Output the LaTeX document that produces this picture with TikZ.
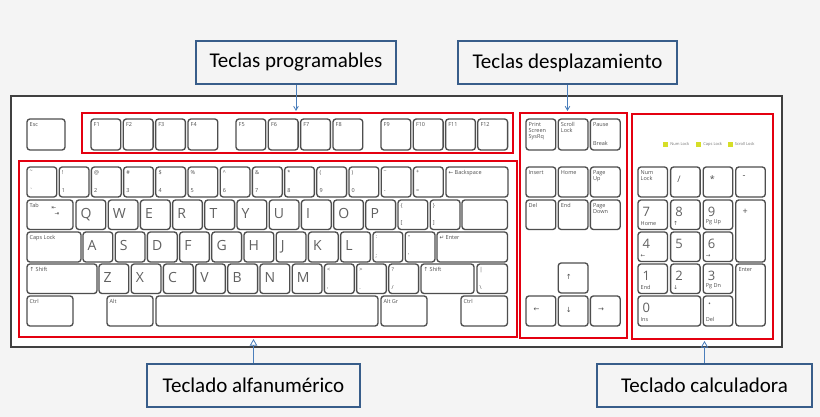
\documentclass[tikz,border=0pt]{standalone}
\usepackage{fontspec}
\usepackage{tikz}
\usetikzlibrary{arrows}
\usetikzlibrary{positioning}

\setmainfont{Carlito}
\newfontfamily\keyfont{Open Sans}
\newfontfamily\symfont{DejaVu Sans}

\definecolor{bgpaper}{RGB}{244,244,244}
\definecolor{keyline}{RGB}{78,78,78}
\definecolor{zonered}{RGB}{228,0,16}
\definecolor{boxblue}{RGB}{56,93,138}
\definecolor{arrowblue}{RGB}{74,126,187}
\definecolor{ledyellow}{RGB}{214,222,40}

\tikzset{
  keycap/.style={draw=keyline, fill=white, line width=1.35pt, rounded corners=3pt, inner sep=0pt, outer sep=0pt},
  keytxt/.style={anchor=north west, inner sep=0pt, xshift=2.5pt, yshift=-3.5pt, text=keyline, align=left, font=\keyfont\fontsize{5.5}{6}\selectfont},
  keybig/.style={keytxt, xshift=2pt, yshift=-5pt, text=black!62, font=\keyfont\fontsize{14}{14}\selectfont},
  keynum/.style={keytxt, xshift=2pt, yshift=-3.5pt, text=black!62, font=\keyfont\fontsize{13}{13}\selectfont},
  keymid/.style={keytxt, xshift=4pt, yshift=-5pt, font=\keyfont\fontsize{9}{9}\selectfont},
  keyarr/.style={keytxt, xshift=5pt, yshift=-8pt, font=\symfont\fontsize{7}{7}\selectfont},
  keylow/.style={anchor=south west, inner sep=0pt, xshift=2.5pt, yshift=4pt, text=keyline, font=\keyfont\fontsize{5.5}{6}\selectfont},
  zone/.style={draw=zonered, line width=2.2pt, inner sep=0pt, outer sep=0pt},
  frame/.style={draw=black!75, fill=white, line width=1.2pt, inner sep=0pt},
  callbox/.style={draw=boxblue, fill=bgpaper, line width=1.8pt, inner sep=0pt, font=\fontsize{21}{25}\selectfont},
  led/.style={fill=ledyellow, minimum size=5pt, inner sep=0pt},
  ledtxt/.style={inner sep=0pt, text=black!55, font=\keyfont\fontsize{4}{4}\selectfont}
}

% key: [style]{x}{y}{w}{h}{name}{text}
\newcommand{\kc}[7][keytxt]{%
  \node[keycap, minimum width=#4pt, minimum height=#5pt] (#6) at ({#2+#4/2},{#3+#5/2}) {};
  \node[#1] (#6-t) at (#6.north west) {#7};}
\newcommand{\kl}[2]{\node[keylow] (#1-b) at (#1.south west) {#2};}

\begin{document}
\begin{tikzpicture}[x=1pt, y=-1pt]
    \fill[bgpaper] (0,0) rectangle (820,417);
    \useasboundingbox (0,0) rectangle (820,417);

    \node[frame, minimum width=771pt, minimum height=251pt] (board) at (396.5,221.5) {};

    % function row
    \kc{27}{119}{38}{31}{esc}{Esc}
    \foreach \i/\x in {1/91,2/123.3,3/155.6,4/188,5/236,6/268.3,7/300.6,8/333,9/381,10/413.3,11/445.6,12/477.8}
    {\kc{\x}{119}{29.8}{31}{f\i}{F\i}}

    % number row
    \foreach \i/\s/\d in {0/\textasciitilde/\textasciigrave,1/!/1,2/@/2,3/\#/3,4/\$/4,5/\%/5,6/\textasciicircum/6,7/\&/7,8/*/8,9/(/9,10/)/0,11/\_/-,12/+/=}
    {\kc{27+32.2*\i}{167}{29.8}{30}{n\i}{\s}
     \kl{n\i}{\d}}
    \kc{446}{167}{62}{30}{bksp}{{\symfont ←} Backspace}

    % tab row
    \kc{27}{200}{46}{29.5}{tab}{Tab}
    \node[keytxt, xshift=22pt, yshift=-3pt, font=\symfont\fontsize{5.5}{6}\selectfont] (tab-s) at (tab.north west) {⇤\\\hspace{3pt}⇥};
    \foreach \i/\c in {0/Q,1/W,2/E,3/R,4/T,5/Y,6/U,7/I,8/O,9/P}
    {\kc[keybig]{76+32.2*\i}{200}{29.8}{29.5}{q\i}{\c}}
    \kc{398}{200}{29.8}{29.5}{lbrk}{\{}
    \kl{lbrk}{[}
    \kc{430.2}{200}{29.8}{29.5}{rbrk}{\}}
    \kl{rbrk}{]}
    \kc{462}{200}{45.5}{29.5}{ret}{}

    % caps row
    \kc{27}{232}{54}{30}{caps}{Caps Lock}
    \foreach \i/\c in {0/A,1/S,2/D,3/F,4/G,5/H,6/J,7/K,8/L}
    {\kc[keybig]{83+32.2*\i}{232}{29.8}{30}{a\i}{\c}}
    \kc{373}{232}{29.8}{30}{semi}{:}
    \kl{semi}{;}
    \kc{405.2}{232}{29.8}{30}{quot}{\textquotedbl}
    \kl{quot}{\textquotesingle}
    \kc{437}{232}{70.5}{30}{enter}{{\symfont ↵} Enter}

    % shift row
    \kc{27}{264}{70}{29.5}{lshift}{{\symfont ↑} Shift}
    \foreach \i/\c in {0/Z,1/X,2/C,3/V,4/B,5/N,6/M}
    {\kc[keybig]{99+32.2*\i}{264}{29.8}{29.5}{z\i}{\c}}
    \foreach \i/\s/\d in {7/</{,},8/>/.,9/?/{/}}
    {\kc{99+32.2*\i}{264}{29.8}{29.5}{z\i}{\s}
     \kl{z\i}{\d}}
    \kc{421}{264}{53}{29.5}{rshift}{{\symfont ↑} Shift}
    \kc{477}{264}{30.5}{29.5}{bar}{|}
    \kl{bar}{\textbackslash}

    % bottom row
    \kc{27}{296}{46}{30}{lctrl}{Ctrl}
    \kc{107}{296}{46}{30}{alt}{Alt}
    \kc{156}{296}{222}{30}{space}{}
    \kc{381}{296}{46}{30}{altgr}{Alt Gr}
    \kc{461}{296}{46.5}{30}{rctrl}{Ctrl}

    % navigation block
    \kc{526}{119}{29.8}{31}{prt}{Print\\Screen\\SysRq}
    \kc{558.2}{119}{29.8}{31}{scr}{Scroll\\Lock}
    \kc{590.4}{119}{29.8}{31}{pau}{Pause}
    \kl{pau}{Break}
    \kc{526}{167}{29.8}{30}{ins}{Insert}
    \kc{558.2}{167}{29.8}{30}{home}{Home}
    \kc{590.4}{167}{29.8}{30}{pgup}{Page\\Up}
    \kc{526}{200}{29.8}{29.5}{del}{Del}
    \kc{558.2}{200}{29.8}{29.5}{end}{End}
    \kc{590.4}{200}{29.8}{29.5}{pgdn}{Page\\Down}
    \kc[keyarr]{558.2}{263}{29.8}{30}{up}{↑}
    \kc[keyarr]{526}{296}{29.8}{30}{left}{←}
    \kc[keyarr]{558.2}{296}{29.8}{30}{down}{↓}
    \kc[keyarr]{590.4}{296}{29.8}{30}{right}{→}

    % lights
    \foreach \i/\x/\t in {1/665.5/Num Lock,2/698.5/Caps Lock,3/730/Scroll Lock}
    {\node[led] (led\i) at (\x,144.5) {};
     \node[ledtxt, right=2pt of led\i] (led\i-t) {\t};}

    % calculator block
    \kc{638}{167}{29.5}{30}{nlk}{Num\\Lock}
    \kc[keymid]{670.6}{167}{29.5}{30}{pdiv}{/}
    \kc[keymid]{703.2}{167}{29.5}{30}{pmul}{*}
    \kc[keymid]{735.8}{167}{29.5}{30}{pmin}{-}
    \foreach \c/\x/\y/\d in {7/638/200/Home,8/670.6/200/{\symfont ↑},9/703.2/200/Pg Up,4/638/232/{\symfont ←},5/670.6/232/{},6/703.2/232/{\symfont →},1/638/264/End,2/670.6/264/{\symfont ↓},3/703.2/264/Pg Dn}
    {\kc[keynum]{\x}{\y}{29.5}{29.5}{p\c}{\c}
     \kl{p\c}{\d}}
    \kc[keymid]{735.8}{200}{29.5}{62}{pplus}{+}
    \kc{735.8}{264}{29.5}{62}{pent}{Enter}
    \kc[keynum]{638}{296}{62.7}{30}{p0}{0}
    \kl{p0}{Ins}
    \kc[keynum]{703.2}{296}{29.5}{30}{pdot}{.}
    \kl{pdot}{Del}

    % red zones
    \node[zone, minimum width=431pt, minimum height=40pt] (fnzone) at (297.5,133) {};
    \node[zone, minimum width=498pt, minimum height=176pt] (mainzone) at (268,249) {};
    \node[zone, minimum width=107pt, minimum height=225pt] (navzone) at (573.5,225.5) {};
    \node[zone, minimum width=141pt, minimum height=225pt] (numzone) at (702.5,226.5) {};

    % callouts
    \node[callbox, minimum width=200pt, minimum height=43pt] (prog) at (296,62.5) {Teclas programables};
    \node[callbox, minimum width=219pt, minimum height=43pt] (desp) at (567.5,62.5) {Teclas desplazamiento};
    \node[callbox, minimum width=213pt, minimum height=43pt] (alfa) at (253.5,385.5) {Teclado alfanumérico};
    \node[callbox, minimum width=215pt, minimum height=43pt] (calc) at (704.5,385.5) {Teclado calculadora};

    \draw[-angle 60, arrowblue, line width=0.8pt] (prog.south) -- ([yshift=2pt]prog.south |- fnzone.north);
    \draw[-angle 60, arrowblue, line width=0.8pt] (desp.south) -- ([yshift=2pt]desp.south |- navzone.north);
    \draw[-open triangle 60, arrowblue, line width=0.8pt] (alfa.north) -- ([yshift=-2pt]alfa.north |- mainzone.south);
    \draw[-open triangle 60, arrowblue, line width=0.8pt] (calc.north) -- ([yshift=-2pt]calc.north |- numzone.south);
\end{tikzpicture}
\end{document}
